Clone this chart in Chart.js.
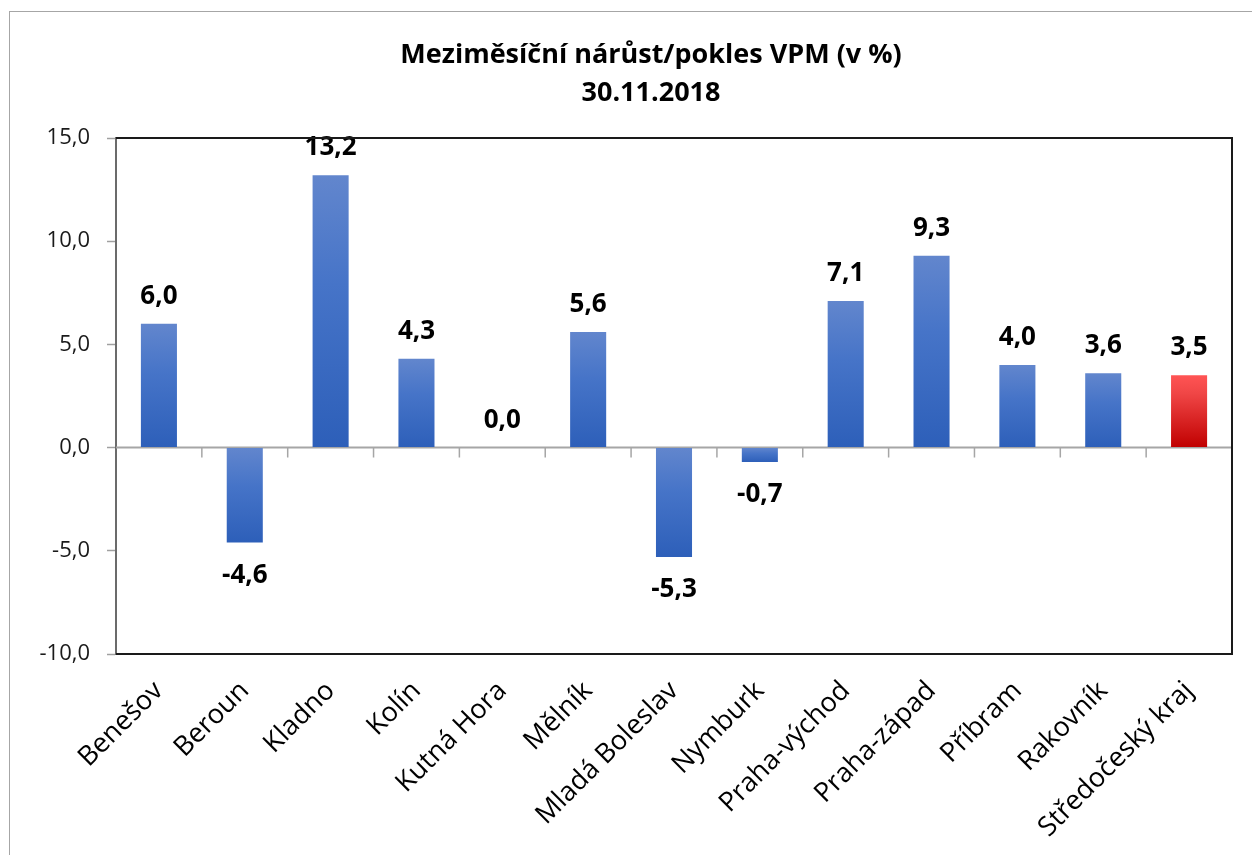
<!DOCTYPE html>
<html>
<head>
<meta charset="utf-8">
<script src="https://cdn.jsdelivr.net/npm/chart.js@4.4.1/dist/chart.umd.min.js"></script>
<style>
  html, body { margin: 0; padding: 0; background: #fff; overflow: hidden; }
  #wrap { position: relative; width: 1252px; height: 855px; }
  #frame { position: absolute; left: 9px; top: 11px; width: 1400px; height: 1000px;
           border-left: 1.5px solid #a6a6a6; border-top: 1.5px solid #a6a6a6; pointer-events: none; }
  canvas { position: absolute; left: 0; top: 0; }
</style>
</head>
<body>
<div id="wrap">
  <canvas id="c" width="1252" height="855"></canvas>
  <div id="frame"></div>
</div>
<script>
const titleLines = ['Meziměsíční nárůst/pokles VPM (v %)', '30.11.2018'];
const categories = ['Benešov', 'Beroun', 'Kladno', 'Kolín', 'Kutná Hora', 'Mělník', 'Mladá Boleslav',
                    'Nymburk', 'Praha-východ', 'Praha-západ', 'Příbram', 'Rakovník', 'Středočeský kraj'];
const values = [6.0, -4.6, 13.2, 4.3, 0.0, 5.6, -5.3, -0.7, 7.1, 9.3, 4.0, 3.6, 3.5];
const highlightCategory = 'Středočeský kraj';
const yTicks = [-10, -5, 0, 5, 10, 15];

const FONT = "'Open Sans', 'DejaVu Sans', sans-serif";
const fmt = v => v.toFixed(1).replace('.', ',');

function barGradient(ctx) {
  const chart = ctx.chart;
  const y = chart.scales && chart.scales.y;
  const i = ctx.dataIndex;
  const isHi = categories[i] === highlightCategory;
  const top = isHi ? '#ff5454' : '#6286cd';
  const mid = isHi ? '#e53030' : '#4674c8';
  const bot = isHi ? '#c00000' : '#2d5fb9';
  if (!y || !chart.chartArea) return mid;
  const v = values[i];
  const y0 = y.getPixelForValue(Math.max(v, 0));
  const y1 = y.getPixelForValue(Math.min(v, 0));
  if (!isFinite(y0) || !isFinite(y1) || Math.abs(y1 - y0) < 0.5) return mid;
  const g = chart.ctx.createLinearGradient(0, y0, 0, y1);
  g.addColorStop(0, top);
  g.addColorStop(isHi ? 0.25 : 0.4, isHi ? '#f04646' : mid);
  g.addColorStop(1, bot);
  return g;
}

const framePlugin = {
  id: 'framePlugin',
  beforeDatasetsDraw(chart) {
    const { ctx, chartArea: a, scales: { x, y } } = chart;
    const zy = y.getPixelForValue(0);
    ctx.save();
    ctx.strokeStyle = '#a6a6a6';
    ctx.lineWidth = 2;
    ctx.beginPath();
    ctx.moveTo(a.left, zy);
    ctx.lineTo(a.right, zy);
    ctx.stroke();
    ctx.lineWidth = 1.5;
    ctx.beginPath();
    for (let i = 1; i < categories.length; i++) {
      const px = (x.getPixelForValue(i - 1) + x.getPixelForValue(i)) / 2;
      ctx.moveTo(px, zy);
      ctx.lineTo(px, zy + 10);
    }
    ctx.stroke();
    ctx.restore();
  },
  afterDatasetsDraw(chart) {
    const { ctx, chartArea: a } = chart;
    const meta = chart.getDatasetMeta(0);
    ctx.save();
    ctx.fillStyle = '#000';
    ctx.font = "bold 26px " + FONT;
    ctx.textAlign = 'center';
    ctx.textBaseline = 'alphabetic';
    meta.data.forEach((bar, i) => {
      const v = values[i];
      const txt = fmt(v);
      if (v >= 0) ctx.fillText(txt, bar.x, bar.y - 20);
      else ctx.fillText(txt, bar.x, bar.y + 40);
    });
    // plot border: top, right, bottom
    ctx.strokeStyle = '#1a1a1a';
    ctx.lineWidth = 2;
    ctx.beginPath();
    ctx.moveTo(a.left, a.top);
    ctx.lineTo(a.right, a.top);
    ctx.lineTo(a.right, a.bottom);
    ctx.lineTo(a.left, a.bottom);
    ctx.stroke();
    ctx.restore();
  },
  afterDraw(chart) {
    const { ctx } = chart;
    // chart title, centred on the chart object's frame (which extends past the right edge)
    const cx = 651;
    ctx.save();
    ctx.fillStyle = '#000';
    ctx.font = "bold 27px " + FONT;
    ctx.textAlign = 'center';
    ctx.textBaseline = 'middle';
    ctx.fillText(titleLines[0], cx, 55);
    ctx.fillText(titleLines[1], cx, 93);
    ctx.restore();
  }
};

new Chart(document.getElementById('c'), {
  type: 'bar',
  data: {
    labels: categories,
    datasets: [{
      data: values,
      backgroundColor: barGradient,
      borderWidth: 0,
      barPercentage: 0.42,
      categoryPercentage: 1.0
    }]
  },
  options: {
    responsive: false,
    devicePixelRatio: 1,
    animation: false,
    layout: { padding: { left: 10, right: 20, top: 138, bottom: 0 } },
    plugins: {
      legend: { display: false },
      tooltip: { enabled: false },
      title: { display: false }
    },
    scales: {
      x: {
        type: 'category',
        offset: true,
        grid: { display: false },
        border: { display: false },
        ticks: {
          minRotation: 45, maxRotation: 45, autoSkip: false,
          color: '#000', padding: 13,
          font: { family: FONT, size: 27 }
        },
        afterFit(s) { s.height = 201; }
      },
      y: {
        min: yTicks[0], max: yTicks[yTicks.length - 1],
        afterBuildTicks(s) { s.ticks = yTicks.map(v => ({ value: v })); },
        ticks: {
          color: '#1a1a1a', padding: 17,
          font: { family: FONT, size: 22 },
          callback: v => fmt(v)
        },
        grid: { drawOnChartArea: false, drawTicks: true, tickLength: 9, tickColor: '#a0a0a0', tickWidth: 1.5 },
        border: { display: true, color: '#6b6b6b', width: 2 },
        afterFit(s) { s.width = 106; }
      }
    }
  },
  plugins: [framePlugin]
});
</script>
</body>
</html>
